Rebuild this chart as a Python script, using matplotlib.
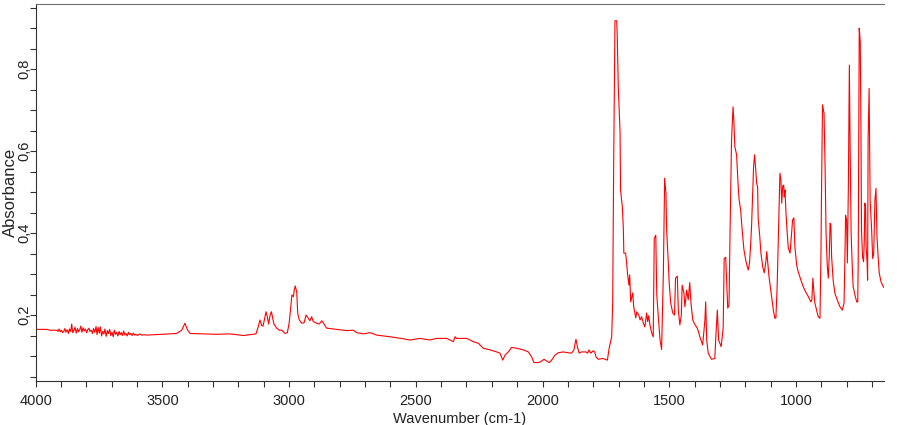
import numpy as np
import matplotlib
matplotlib.use("Agg")
import matplotlib.pyplot as plt
from matplotlib.ticker import MultipleLocator, FuncFormatter

# spectrum, split by region (wavenumber cm-1, absorbance)
wn_baseline = [3999, 3957, 3944,
               3917, 3912, 3908, 3903, 3899, 3894, 3889, 3885, 3881, 3876,
               3871, 3867, 3862, 3858, 3854, 3849, 3845, 3840, 3835, 3831,
               3826, 3822, 3818, 3813, 3809, 3804, 3799, 3795, 3790, 3786,
               3781, 3776, 3772, 3767, 3762, 3758, 3754, 3749, 3745, 3740,
               3736, 3731, 3727, 3722, 3717, 3713, 3708, 3704, 3699, 3694,
               3690, 3685, 3681, 3676, 3671, 3667, 3662, 3658, 3653, 3648,
               3644, 3639, 3634, 3630, 3625, 3620, 3615, 3610, 3605, 3598,
               3590, 3582, 3572, 3562, 3444, 3424, 3411, 3402, 3391, 3286,
               3233, 3181, 3131]
abs_baseline = [.165, .165, .163,
                .163, .160, .166, .159, .163, .157, .161, .167, .158, .164,
                .155, .166, .160, .178, .157, .163, .170, .156, .167, .159,
                .165, .173, .158, .169, .161, .166, .157, .164, .168, .160,
                .163, .155, .167, .158, .172, .152, .170, .156, .171, .149,
                .160, .154, .166, .148, .162, .155, .165, .150, .158, .147,
                .163, .153, .158, .149, .160, .152, .157, .150, .161, .151,
                .155, .149, .158, .152, .155, .150, .156, .151, .153, .150,
                .154, .151, .152, .151, .155, .163, .180, .165, .155, .153,
                .154, .150, .154]

wn_ch = [3122, 3115, 3108, 3103, 3095, 3091, 3086, 3081, 3075, 3070,
         3065, 3060, 3049, 3039, 3029, 3016, 3007, 3000, 2994, 2989,
         2983, 2980, 2976, 2970, 2966, 2960, 2950, 2941, 2933, 2924,
         2918, 2911, 2905, 2891, 2881, 2871, 2862, 2852, 2812, 2773,
         2747, 2733, 2707, 2681, 2654, 2602, 2549, 2523]
abs_ch = [.171, .188, .174, .173, .196, .208, .196, .178, .200, .208,
          .193, .178, .168, .163, .163, .155, .157, .180, .216, .249,
          .245, .261, .271, .256, .204, .188, .180, .181, .200, .192,
          .186, .196, .184, .180, .178, .186, .178, .168, .165, .162,
          .163, .157, .154, .157, .151, .147, .142, .139]

wn_mid = [2484, 2444, 2418, 2378, 2352, 2345, 2339, 2299, 2273, 2253,
          2234, 2207, 2181, 2168, 2157, 2148, 2135, 2122, 2102, 2076,
          2056, 2043, 2034, 2014, 2003, 1994, 1984, 1973, 1964, 1951,
          1938, 1918, 1900, 1885, 1876, 1868, 1861, 1855, 1846, 1829,
          1822, 1817, 1809, 1800, 1794, 1789, 1780, 1762, 1744]
abs_mid = [.143, .139, .143, .143, .135, .147, .143, .143, .135, .131,
           .119, .115, .110, .107, .090, .102, .110, .121, .119, .115,
           .110, .098, .084, .084, .088, .092, .088, .084, .090, .102,
           .108, .110, .108, .107, .115, .141, .119, .107, .110, .110,
           .107, .115, .107, .113, .110, .098, .092, .094, .090]

wn_carbonyl = [1737, 1727, 1723, 1719, 1714, 1707, 1705, 1701, 1694, 1692,
               1685, 1681, 1679, 1672, 1668, 1664, 1659, 1656, 1652, 1644,
               1640, 1632, 1628, 1620, 1615, 1609, 1602, 1596, 1589, 1585,
               1581, 1576, 1569, 1563, 1559, 1553, 1549, 1543, 1536, 1530,
               1523, 1518, 1513, 1510, 1505, 1500, 1494, 1486, 1479, 1475,
               1468, 1464, 1458, 1452, 1449, 1442, 1438, 1431, 1425, 1419,
               1414, 1407, 1398, 1389, 1379, 1368, 1359, 1356, 1352, 1346,
               1333, 1320, 1316, 1310, 1305, 1295, 1287, 1283, 1277, 1273,
               1269, 1264]
abs_carbonyl = [.119, .147, .232, .581, .918, .918, .879, .757, .647, .505,
                .464, .412, .351, .351, .327, .298, .273, .298, .232, .254,
                .220, .193, .208, .200, .188, .196, .180, .171, .205, .184,
                .198, .176, .156, .147, .387, .395, .249, .196, .139, .116,
                .303, .534, .498, .407, .346, .278, .229, .205, .200, .290,
                .295, .212, .176, .200, .273, .254, .220, .261, .237, .279,
                .229, .188, .176, .168, .147, .127, .188, .232, .139, .107,
                .092, .094, .147, .212, .139, .123, .168, .338, .341, .278,
                .217, .224]

wn_finger = [1260, 1254, 1248, 1245, 1241, 1234, 1228, 1224, 1218, 1212,
             1205, 1198, 1192, 1188, 1183, 1179, 1175, 1171, 1167, 1163,
             1159, 1155, 1151, 1149, 1143, 1138, 1131, 1125, 1119, 1115,
             1111, 1106, 1101, 1096, 1089, 1083, 1079, 1074, 1070, 1067,
             1063, 1059, 1056, 1052, 1048, 1046, 1043, 1039, 1035, 1030,
             1023, 1017, 1013, 1008, 1004, 997, 991, 980, 971, 962,
             951, 941, 937, 933, 929, 925, 917, 912, 905, 901,
             899, 895, 889, 885, 881, 876, 872, 868, 865, 862,
             859, 853, 846, 837, 826, 817, 810, 806, 804, 800,
             797, 793, 789, 786, 782, 778, 774, 767, 760, 756,
             754, 750, 746, 743, 741, 737, 733, 730, 728, 725,
             723, 719, 717, 715, 711, 707, 701, 697, 693, 688,
             684, 680, 675, 671, 664, 655, 649]
abs_finger = [.395, .627, .708, .676, .611, .591, .517, .481, .456, .407,
              .359, .334, .318, .310, .327, .367, .416, .489, .562, .591,
              .559, .522, .512, .437, .395, .351, .318, .303, .327, .355,
              .327, .293, .269, .245, .212, .192, .193, .269, .367, .444,
              .546, .529, .473, .515, .517, .488, .505, .448, .407, .363,
              .351, .399, .432, .437, .367, .322, .306, .285, .269, .257,
              .245, .232, .237, .290, .256, .229, .208, .196, .192, .351,
              .493, .713, .692, .570, .399, .318, .290, .351, .424, .420,
              .342, .285, .253, .237, .220, .212, .229, .359, .444, .432,
              .327, .509, .810, .611, .399, .326, .269, .249, .232, .232,
              .334, .900, .867, .627, .407, .342, .330, .383, .473, .464,
              .367, .329, .285, .627, .753, .481, .407, .338, .349, .481,
              .509, .391, .338, .302, .281, .269, .265]

wavenumber = np.concatenate([wn_baseline, wn_ch, wn_mid, wn_carbonyl, wn_finger])
absorbance = np.concatenate([abs_baseline, abs_ch, abs_mid, abs_carbonyl, abs_finger])

plt.rcParams['font.family'] = ['Liberation Sans', 'DejaVu Sans']

fig = plt.figure(figsize=(9, 4.25), dpi=100)
ax = fig.add_axes([0.0397, 0.1035, 0.9426, 0.8871])

ax.plot(wavenumber, absorbance, color='#ff0000', lw=0.8)

ax.set_xlim(4000, 652)
ax.set_ylim(0.039, 0.959)

ax.xaxis.set_major_locator(MultipleLocator(500))
ax.xaxis.set_minor_locator(MultipleLocator(100))
ax.yaxis.set_major_locator(MultipleLocator(0.2))
ax.yaxis.set_minor_locator(MultipleLocator(0.05))
ax.yaxis.set_major_formatter(FuncFormatter(lambda v, p: f"{v:.1f}".replace('.', ',')))

ax.tick_params(which='both', direction='out', length=4.5, width=0.8,
               color='#333333', labelsize=10.5, labelcolor='#222222')
ax.tick_params(axis='x', pad=5)
ax.tick_params(axis='y', pad=-1.5, labelrotation=90)
plt.setp(ax.get_yticklabels(), va='center')

ax.spines['right'].set_visible(False)
ax.spines['top'].set_color('#707070')
ax.spines['left'].set_color('#333333')
ax.spines['bottom'].set_color('#333333')

ax.set_xlabel('Wavenumber (cm-1)', fontsize=10.5, color='#222222', labelpad=3)
ax.set_ylabel('Absorbance', fontsize=12, color='#222222')
ax.yaxis.set_label_coords(-0.021, 0.5)

fig.savefig('out.png', dpi=100)
